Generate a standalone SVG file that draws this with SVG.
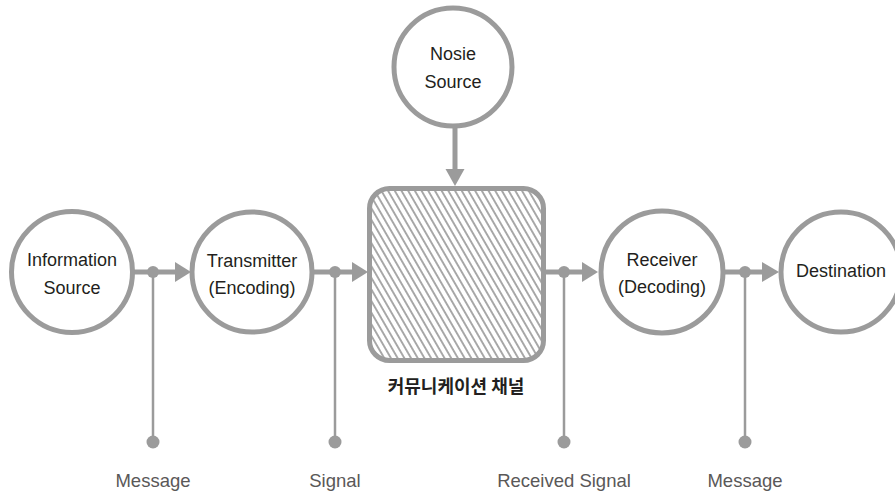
<svg xmlns="http://www.w3.org/2000/svg" width="895" height="493" viewBox="0 0 895 493">
  <style>
    .node { fill: #ffffff; stroke: #9b9b9b; stroke-width: 5; }
    .lbl { font-family: "Liberation Sans", Arial, sans-serif; font-size: 18px; fill: #231f20; text-anchor: middle; }
    .sub { font-family: "Liberation Sans", Arial, sans-serif; font-size: 18.5px; fill: #5a5858; text-anchor: middle; }
    .kr { font-family: "Noto Sans CJK KR", "Noto Sans", sans-serif; font-size: 18px; font-weight: bold; fill: #231f20; text-anchor: middle; }
    .main { stroke: #9b9b9b; stroke-width: 5; fill: none; }
    .tap { stroke: #9b9b9b; stroke-width: 2.5; fill: none; }
    .dot { fill: #9b9b9b; }
    .head { fill: #9b9b9b; }
  </style>
  <defs>
    <pattern id="hatch" patternUnits="userSpaceOnUse" width="5.8" height="10" patternTransform="rotate(-30)">
      <rect width="5.8" height="10" fill="#ffffff"/>
      <line x1="2.9" y1="0" x2="2.9" y2="10" stroke="#9b9b9b" stroke-width="1.7"/>
    </pattern>
  </defs>

  <g id="connectors">
    <line class="main" x1="134" y1="272" x2="176" y2="272"/>
    <polygon class="head" points="175,262 191,272 175,282"/>
    <line class="main" x1="313" y1="272" x2="353" y2="272"/>
    <polygon class="head" points="352,262 368,272 352,282"/>
    <line class="main" x1="545" y1="272" x2="583" y2="272"/>
    <polygon class="head" points="582,262 598,272 582,282"/>
    <line class="main" x1="724" y1="272" x2="763" y2="272"/>
    <polygon class="head" points="762,262 779,272 762,282"/>
    <line class="main" x1="455" y1="126" x2="455" y2="170"/>
    <polygon class="head" points="445.5,169 464.5,169 455,186"/>

    <line class="tap" x1="153" y1="272" x2="153" y2="442"/>
    <line class="tap" x1="335" y1="272" x2="335" y2="442"/>
    <line class="tap" x1="564" y1="272" x2="564" y2="442"/>
    <line class="tap" x1="745" y1="272" x2="745" y2="442"/>
    <circle class="dot" cx="153" cy="272" r="6"/>
    <circle class="dot" cx="335" cy="272" r="6"/>
    <circle class="dot" cx="564" cy="272" r="6"/>
    <circle class="dot" cx="745" cy="272" r="6"/>
    <circle class="dot" cx="153" cy="442" r="6.5"/>
    <circle class="dot" cx="335" cy="442" r="6.5"/>
    <circle class="dot" cx="564" cy="442" r="6.5"/>
    <circle class="dot" cx="745" cy="442" r="6.5"/>
  </g>

  <g id="info-source">
    <circle class="node" cx="72" cy="272" r="60.5"/>
    <text class="lbl" x="72" y="266">Information</text>
    <text class="lbl" x="72" y="294">Source</text>
  </g>

  <g id="transmitter">
    <circle class="node" cx="252" cy="272" r="60"/>
    <text class="lbl" x="252" y="267">Transmitter</text>
    <text class="lbl" x="252" y="294">(Encoding)</text>
  </g>

  <g id="noise-source">
    <circle class="node" cx="453" cy="67" r="59"/>
    <text class="lbl" x="453" y="60">Nosie</text>
    <text class="lbl" x="453" y="88">Source</text>
  </g>

  <g id="channel">
    <rect x="369.5" y="188.5" width="174" height="172" rx="20" ry="20" fill="url(#hatch)" stroke="#9b9b9b" stroke-width="5"/>
    <text class="kr" x="456" y="393">커뮤니케이션 채널</text>
  </g>

  <g id="receiver">
    <circle class="node" cx="662" cy="272" r="61"/>
    <text class="lbl" x="662" y="266">Receiver</text>
    <text class="lbl" x="662" y="293">(Decoding)</text>
  </g>

  <g id="destination">
    <circle class="node" cx="841" cy="272" r="60"/>
    <text class="lbl" x="841" y="277">Destination</text>
  </g>

  <g id="labels">
    <text class="sub" x="153" y="487">Message</text>
    <text class="sub" x="335" y="487">Signal</text>
    <text class="sub" x="564" y="487">Received Signal</text>
    <text class="sub" x="745" y="487">Message</text>
  </g>
</svg>
